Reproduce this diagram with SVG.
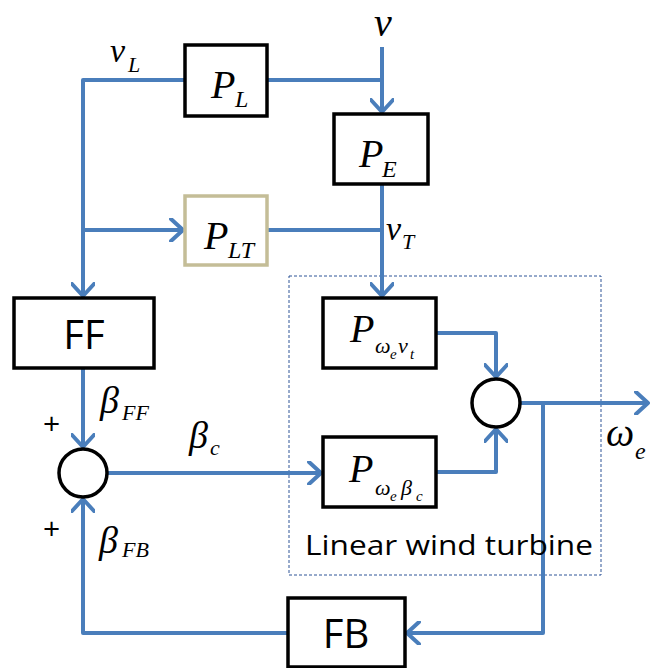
<svg xmlns="http://www.w3.org/2000/svg" width="651" height="668" viewBox="0 0 651 668">
<style>
.box{fill:#fff;stroke:#000;stroke-width:3.5}
.tan{fill:#fff;stroke:#C4BD97;stroke-width:3.5}
.sum{fill:#fff;stroke:#000;stroke-width:3.5}
.ln{fill:none;stroke:#4A7EBB;stroke-width:4;stroke-linejoin:round}
.m{font-family:"Liberation Serif",serif;font-style:italic;fill:#000}
.s{font-family:"Open Sans","Noto Sans",sans-serif;fill:#000}
</style>
<defs>
<marker id="ah" markerUnits="userSpaceOnUse" viewBox="0 0 16 24" refX="14" refY="12" markerWidth="16" markerHeight="24" orient="auto">
<path d="M2,1 L14,12 L2,23" fill="none" stroke="#4A7EBB" stroke-width="4" stroke-linecap="round" stroke-linejoin="round"/>
</marker>
</defs>
<rect x="289" y="276" width="312" height="299" fill="none" stroke="#2F5597" stroke-width="1" stroke-dasharray="3,2"/>
<g id="connectors">
<path class="ln" d="M382,47 V112" marker-end="url(#ah)"/>
<path class="ln" d="M267,80 H382"/>
<path class="ln" d="M185,80 H83 V296" marker-end="url(#ah)"/>
<path class="ln" d="M83,230 H183" marker-end="url(#ah)"/>
<path class="ln" d="M267,230 H382"/>
<path class="ln" d="M382,184 V296" marker-end="url(#ah)"/>
<path class="ln" d="M83,368 V447" marker-end="url(#ah)"/>
<path class="ln" d="M107,473 H321" marker-end="url(#ah)"/>
<path class="ln" d="M436,333 H496 V377" marker-end="url(#ah)"/>
<path class="ln" d="M436,472 H496 V429" marker-end="url(#ah)"/>
<path class="ln" d="M520,403 H648" marker-end="url(#ah)"/>
<path class="ln" d="M543,403 V633 H407" marker-end="url(#ah)"/>
<path class="ln" d="M288,633 H83 V499" marker-end="url(#ah)"/>
</g>
<g id="PL"><rect class="box" x="185" y="45" width="82" height="71"/>
<text class="m" x="211" y="98" font-size="40">P</text><text class="m" x="235" y="107" font-size="24">L</text></g>
<g id="PE"><rect class="box" x="334" y="114" width="94" height="70"/>
<text class="m" x="359" y="167" font-size="40">P</text><text class="m" x="382" y="177" font-size="24">E</text></g>
<g id="PLT"><rect class="tan" x="185" y="196" width="82" height="69"/>
<text class="m" x="204" y="249" font-size="40">P</text><text class="m" x="228" y="258" font-size="24">LT</text></g>
<g id="FF"><rect class="box" x="14" y="298" width="140" height="70"/>
<text class="s" x="84" y="349" font-size="40" text-anchor="middle">FF</text></g>
<g id="sum1"><circle class="sum" cx="83" cy="473" r="24"/></g>
<g id="Pwv"><rect class="box" x="323" y="298" width="113" height="70"/>
<text class="m" x="350" y="342" font-size="40">P</text><text class="m" x="375" y="353" font-size="22">ω</text><text class="m" x="390" y="359" font-size="15">e</text><text class="m" x="398" y="353" font-size="22">v</text><text class="m" x="410" y="359" font-size="15">t</text></g>
<g id="Pwb"><rect class="box" x="323" y="437" width="113" height="70"/>
<text class="m" x="349" y="482" font-size="40">P</text><text class="m" x="375" y="495" font-size="22">ω</text><text class="m" x="390" y="501" font-size="15">e</text><text class="m" x="401" y="495" font-size="22">β</text><text class="m" x="416" y="501" font-size="15">c</text></g>
<g id="sum2"><circle class="sum" cx="496" cy="403" r="24"/></g>
<g id="FB"><rect class="box" x="288" y="598" width="117" height="69"/>
<text class="s" x="346" y="648" font-size="40" text-anchor="middle">FB</text></g>
<g id="labels">
<text class="m" x="374" y="36" font-size="40">v</text>
<text class="m" x="110" y="62" font-size="34">v</text><text class="m" x="128" y="72" font-size="22">L</text>
<text class="m" x="386" y="240" font-size="34">v</text><text class="m" x="402" y="249" font-size="22">T</text>
<text class="m" x="100" y="413" font-size="38">β</text><text class="m" x="122" y="420" font-size="22">FF</text>
<text class="m" x="189" y="448" font-size="38">β</text><text class="m" x="210" y="455" font-size="22">c</text>
<text class="m" x="99" y="553" font-size="38">β</text><text class="m" x="122" y="557" font-size="22">FB</text>
<text class="m" x="606" y="446" font-size="40">ω</text><text class="m" x="635" y="459" font-size="24">e</text>
<text class="s" x="43" y="434" font-size="30">+</text>
<text class="s" x="43" y="539" font-size="30">+</text>
<text class="s" x="305" y="555" font-size="28" textLength="288" lengthAdjust="spacingAndGlyphs">Linear wind turbine</text>
</g>
</svg>
